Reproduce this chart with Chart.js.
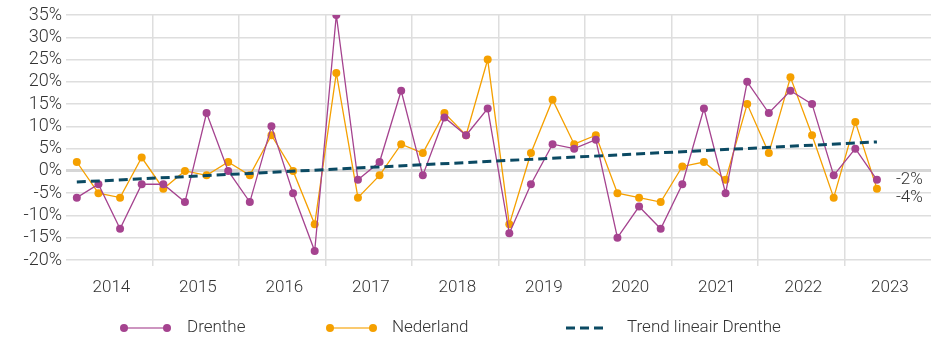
<!DOCTYPE html>
<html>
<head>
<meta charset="utf-8">
<script src="https://cdn.jsdelivr.net/npm/chart.js@4"></script>
<style>
  html, body { margin: 0; padding: 0; background: #fff; }
  #wrap { width: 946px; height: 339px; position: relative; }
</style>
</head>
<body>
<div id="wrap"><canvas id="chart"></canvas></div>
<script>
/* ─── Data: quarterly change, 2014 Q1 – 2023 Q2 ─────────── */
const years     = ['2014', '2015', '2016', '2017', '2018', '2019', '2020', '2021', '2022', '2023'];
const drenthe   = [-6, -3, -13, -3, -3, -7, 13, 0, -7, 10, -5, -18,
                   35, -2, 2, 18, -1, 12, 8, 14, -14, -3, 6, 5, 7, -15,
                   -8, -13, -3, 14, -5, 20, 13, 18, 15, -1, 5, -2];
const nederland = [2, -5, -6, 3, -4, 0, -1, 2, -1, 8, 0, -12,
                   22, -6, -1, 6, 4, 13, 8, 25, -12, 4, 16, 6, 8, -5,
                   -6, -7, 1, 2, -2, 15, 4, 21, 8, -6, 11, -4];
const trendStart = -2.5;   // linear trend Drenthe, first quarter
const trendEnd   = 6.5;    // linear trend Drenthe, last quarter

const PURPLE = '#a5438f';
const ORANGE = '#f5a000';
const TEAL   = '#0b4a63';
const TEXT   = '#333333';
const FONT   = 'Roboto, "Open Sans", sans-serif';

const toPoints = arr => arr.map((v, i) => ({ x: i, y: v }));

// year boundaries get a grid line, year centres get the label
const yearTicks = [];
years.forEach((y, k) => {
  yearTicks.push({ value: k * 4 - 0.5, kind: 'grid' });
  yearTicks.push({ value: k * 4 + 1.6, kind: 'label', text: y });
});
yearTicks.push({ value: years.length * 4 - 0.5, kind: 'grid' });

/* ─── End-of-line value labels ──────────────────────────── */
const endLabels = {
  id: 'endLabels',
  afterDatasetsDraw(chart) {
    const { ctx } = chart;
    ctx.save();
    ctx.font = '300 17px ' + FONT;
    ctx.fillStyle = TEXT;
    ctx.textBaseline = 'middle';
    ctx.textAlign = 'left';
    // Drenthe sits on its point, Nederland nudged down to stay clear
    [{ di: 1, dy: 0 }, { di: 2, dy: 9 }].forEach(({ di, dy }) => {
      const meta = chart.getDatasetMeta(di);
      const data = chart.data.datasets[di].data;
      const last = meta.data[meta.data.length - 1];
      ctx.fillText(data[data.length - 1].y + '%', last.x + 19, last.y + dy);
    });
    ctx.restore();
  }
};

/* ─── Legend under the chart ────────────────────────────── */
const bottomLegend = {
  id: 'bottomLegend',
  afterDraw(chart) {
    const { ctx } = chart;
    const y = 328;
    ctx.save();
    ctx.font = '300 17px ' + FONT;
    ctx.textBaseline = 'middle';
    const items = [
      { x: 124, w: 43, color: PURPLE, text: 'Drenthe', tx: 187 },
      { x: 330, w: 43, color: ORANGE, text: 'Nederland', tx: 392 },
      { x: 566, w: 38, color: TEAL, text: 'Trend lineair Drenthe', tx: 627, dash: true }
    ];
    items.forEach(it => {
      ctx.beginPath();
      ctx.strokeStyle = it.color;
      if (it.dash) { ctx.lineWidth = 3; ctx.setLineDash([9, 5]); }
      else { ctx.lineWidth = 1.5; ctx.setLineDash([]); ctx.globalAlpha = 0.75; }
      ctx.moveTo(it.x, y);
      ctx.lineTo(it.x + it.w, y);
      ctx.stroke();
      ctx.globalAlpha = 1;
      ctx.setLineDash([]);
      if (!it.dash) {
        ctx.fillStyle = it.color;
        [it.x, it.x + it.w].forEach(px => {
          ctx.beginPath();
          ctx.arc(px, y, 4, 0, Math.PI * 2);
          ctx.fill();
        });
      }
      ctx.fillStyle = TEXT;
      ctx.fillText(it.text, it.tx, y);
    });
    ctx.restore();
  }
};

/* ─── Chart ─────────────────────────────────────────────── */
new Chart(document.getElementById('chart'), {
  type: 'line',
  data: {
    datasets: [
      {
        label: 'Trend lineair Drenthe',
        data: [{ x: 0, y: trendStart }, { x: drenthe.length - 1, y: trendEnd }],
        borderColor: TEAL,
        borderWidth: 3,
        borderDash: [9, 5],
        pointRadius: 0,
        order: 0
      },
      {
        label: 'Drenthe',
        data: toPoints(drenthe),
        borderColor: PURPLE,
        backgroundColor: PURPLE,
        borderWidth: 1.3,
        pointRadius: 4,
        pointBorderWidth: 0,
        pointHoverRadius: 4,
        order: 1
      },
      {
        label: 'Nederland',
        data: toPoints(nederland),
        borderColor: ORANGE,
        backgroundColor: ORANGE,
        borderWidth: 1.3,
        pointRadius: 4,
        pointBorderWidth: 0,
        pointHoverRadius: 4,
        order: 2
      }
    ]
  },
  options: {
    responsive: true,
    maintainAspectRatio: false,
    animation: false,
    layout: { padding: { top: 15, right: 15, left: 0, bottom: 40 } },
    plugins: {
      legend: { display: false },
      tooltip: { enabled: false }
    },
    scales: {
      x: {
        type: 'linear',
        min: -0.5,
        max: years.length * 4 - 0.5,
        afterBuildTicks: axis => { axis.ticks = yearTicks.map(t => ({ value: t.value })); },
        afterFit: axis => { axis.height = 39; },
        border: { display: false },
        grid: {
          lineWidth: 1.5,
          tickLength: 6,
          color: ctx => {
            const t = yearTicks[ctx.index];
            if (!t || t.kind !== 'grid') return 'rgba(0,0,0,0)';
            if (ctx.index === 0 || ctx.index === yearTicks.length - 1) return 'rgba(0,0,0,0)';
            return '#dedede';
          }
        },
        ticks: {
          autoSkip: false,
          maxRotation: 0,
          padding: 12,
          color: TEXT,
          font: { family: FONT, size: 17, weight: '300' },
          callback: (v, i) => (yearTicks[i] && yearTicks[i].kind === 'label') ? yearTicks[i].text : ''
        }
      },
      y: {
        min: -20,
        max: 35,
        afterFit: axis => { axis.width = 66; },
        border: { display: false },
        grid: {
          drawTicks: false,
          color: ctx => ctx.tick.value === 0 ? '#d6d6d6' : '#dedede',
          lineWidth: ctx => ctx.tick.value === 0 ? 3 : 1.5
        },
        ticks: {
          stepSize: 5,
          autoSkip: false,
          maxTicksLimit: 20,
          padding: 4,
          color: TEXT,
          font: { family: FONT, size: 18, weight: '300' },
          callback: v => v + '%'
        }
      }
    }
  },
  plugins: [endLabels, bottomLegend]
});
</script>
</body>
</html>
